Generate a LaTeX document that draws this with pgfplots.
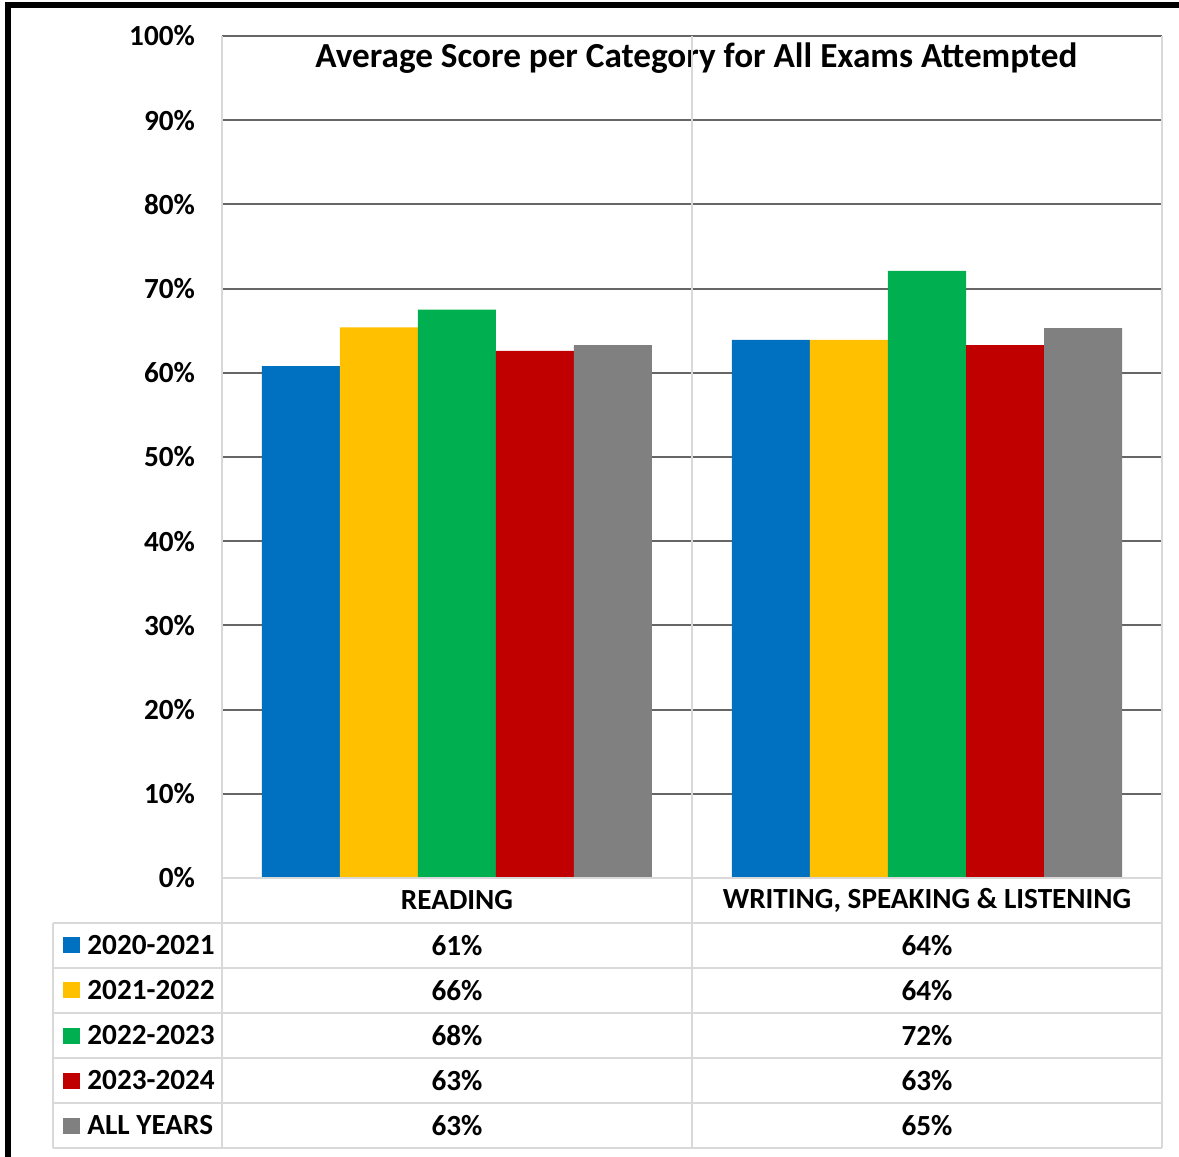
\documentclass[border=0pt]{standalone}
\usepackage{fontspec}
\setmainfont{Carlito}
\usepackage{pgfplots}
\pgfplotsset{compat=1.18}

\definecolor{cblue}{HTML}{0070C0}
\definecolor{cyellow}{HTML}{FFC000}
\definecolor{cgreen}{HTML}{00B050}
\definecolor{cred}{HTML}{C00000}
\definecolor{cgray}{HTML}{808080}
\definecolor{gridc}{HTML}{666666}
\definecolor{linec}{HTML}{D9D9D9}
\newcommand\lbl{\bfseries\fontsize{14.6}{17}\selectfont}

\begin{document}
\begin{tikzpicture}
\begin{axis}[
  scale only axis,
  width=470pt, height=421pt,
  xmin=-0.5, xmax=1.5,
  ymin=0, ymax=100,
  ybar=0pt, bar width=39pt,
  xtick=\empty,
  ytick={0,10,...,100},
  yticklabels={0\%,10\%,20\%,30\%,40\%,50\%,60\%,70\%,80\%,90\%,100\%},
  major tick length=0pt,
  ymajorgrids,
  grid style={color=gridc, line width=1pt},
  axis line style={draw=none},
  yticklabel style={font=\lbl, anchor=east, xshift=-10pt},
  clip=false,
]
\addplot[fill=cblue, draw=none]   coordinates {(0,60.8) (1,63.9)};
\addplot[fill=cyellow, draw=none] coordinates {(0,65.4) (1,63.9)};
\addplot[fill=cgreen, draw=none]  coordinates {(0,67.5) (1,72.1)};
\addplot[fill=cred, draw=none]    coordinates {(0,62.6) (1,63.3)};
\addplot[fill=cgray, draw=none]   coordinates {(0,63.3) (1,65.3)};
\end{axis}

% pixel scope: (X,Y) in reference pixels, y downwards
\begin{scope}[shift={(-111pt,439pt)},x=0.5pt,y=-0.5pt]
% title
\node[font=\bfseries\fontsize{17.6}{20}\selectfont] at (696.5,58) {Average Score per Category for All Exams Attempted};
% data table grid
\draw[linec, line width=1pt] (222,36) -- (222,1147.5);
\draw[linec, line width=1pt] (692,36) -- (692,1147.5);
\draw[linec, line width=1pt] (1162,36) -- (1162,1147.5);
\draw[linec, line width=1pt] (53,923) -- (53,1147.5);
\draw[linec, line width=1pt] (222,878.5) -- (1162,878.5);
\foreach \y in {923,968,1013,1058,1103,1147.5}
  \draw[linec, line width=1pt] (53,\y) -- (1162,\y);
% category labels
\node[font=\lbl] at (457,900.5) {READING};
\node[font=\lbl] at (927,900.5) {WRITING, SPEAKING \& LISTENING};
% rows
\foreach \c/\n/\a/\b [count=\i from 0] in {cblue/2020-2021/61/64, cyellow/2021-2022/66/64, cgreen/2022-2023/68/72, cred/2023-2024/63/63, cgray/ALL YEARS/63/65} {
  \pgfmathsetmacro\yc{945.5+45*\i}
  \fill[\c] (63,\yc-8) rectangle (80,\yc+8);
  \node[font=\lbl, anchor=west, inner sep=0pt] at (87,\yc) {\n};
  \node[font=\lbl] at (457,\yc) {\a\%};
  \node[font=\lbl] at (927,\yc) {\b\%};
}
% outer frame
\draw[black, line width=3pt] (8,1170) -- (8,5) -- (1190,5);
\pgfresetboundingbox
\path[use as bounding box] (0,0) rectangle (1179,1157);
\end{scope}
\end{tikzpicture}
\end{document}
